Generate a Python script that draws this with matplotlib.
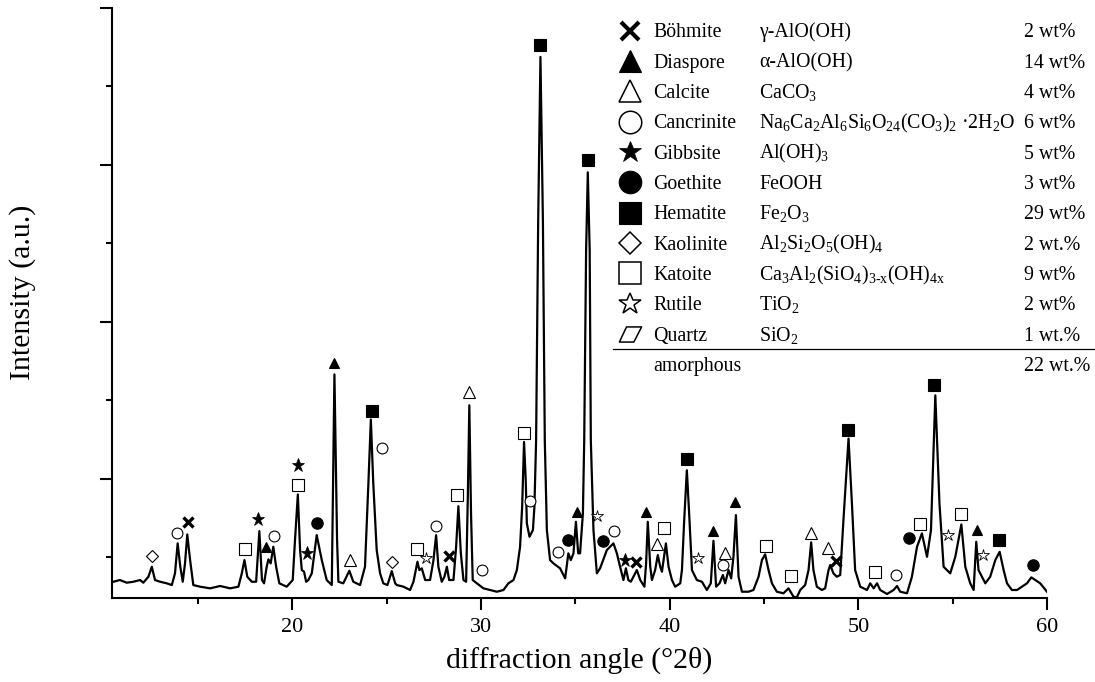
import matplotlib
matplotlib.use("Agg")
import matplotlib.pyplot as plt
from matplotlib.path import Path
from matplotlib.ticker import MultipleLocator

plt.rcParams['font.family'] = ['Liberation Serif', 'DejaVu Serif']
plt.rcParams['mathtext.fontset'] = 'custom'
plt.rcParams['mathtext.rm'] = 'Liberation Serif'
plt.rcParams['mathtext.it'] = 'Liberation Serif:italic'
plt.rcParams['mathtext.bf'] = 'Liberation Serif:bold'

two_theta = [10.51, 10.86, 11.22, 11.57, 11.93, 12.10, 12.37, 12.55, 12.72, 12.99,
             13.34, 13.61, 13.78, 13.92, 14.06, 14.19, 14.31, 14.43, 14.58, 14.75,
             15.11, 15.64, 16.17, 16.70, 17.14, 17.32, 17.46, 17.61, 17.85, 18.08,
             18.25, 18.39, 18.50, 18.64, 18.73, 18.85, 18.99, 19.14, 19.31, 19.70,
             20.02, 20.14, 20.29, 20.41, 20.50, 20.62, 20.73, 20.85, 21.03, 21.29,
             21.56, 21.82, 22.09, 22.23, 22.37, 22.44, 22.70, 23.02, 23.23, 23.59,
             23.85, 24.03, 24.16, 24.29, 24.47, 24.65, 24.82, 25.04, 25.27, 25.45,
             25.54, 25.89, 26.24, 26.42, 26.63, 26.73, 26.86, 27.04, 27.30, 27.48,
             27.62, 27.74, 27.92, 28.06, 28.19, 28.31, 28.54, 28.68, 28.80, 28.93,
             29.07, 29.21, 29.30, 29.38, 29.47, 29.56, 29.78, 30.13, 30.48, 30.84,
             31.19, 31.45, 31.72, 31.90, 32.07, 32.18, 32.28, 32.37, 32.43, 32.57,
             32.75, 32.83, 32.92, 33.03, 33.15, 33.28, 33.38, 33.49, 33.66, 33.84,
             34.19, 34.46, 34.63, 34.76, 34.90, 35.03, 35.15, 35.25, 35.40, 35.47,
             35.57, 35.66, 35.76, 35.82, 35.96, 36.14, 36.31, 36.67, 36.84, 37.02,
             37.20, 37.37, 37.55, 37.68, 37.81, 37.94, 38.08, 38.26, 38.44, 38.66,
             38.75, 38.84, 38.97, 39.06, 39.23, 39.37, 39.50, 39.59, 39.80, 39.94,
             40.12, 40.29, 40.56, 40.65, 40.77, 40.91, 41.05, 41.18, 41.44, 41.71,
             41.97, 42.18, 42.32, 42.46, 42.64, 42.82, 42.94, 43.12, 43.26, 43.38,
             43.51, 43.65, 43.83, 44.18, 44.44, 44.71, 44.89, 45.06, 45.24, 45.42,
             45.68, 46.03, 46.30, 46.56, 46.74, 46.92, 47.18, 47.36, 47.50, 47.62,
             47.80, 48.07, 48.24, 48.42, 48.51, 48.68, 48.86, 49.04, 49.21, 49.48,
             49.66, 49.83, 50.10, 50.46, 50.63, 50.81, 50.99, 51.16, 51.52, 51.87,
             52.05, 52.22, 52.58, 52.84, 53.11, 53.37, 53.64, 53.85, 54.08, 54.30,
             54.52, 54.87, 55.14, 55.46, 55.67, 55.93, 56.11, 56.25, 56.37, 56.55,
             56.73, 56.99, 57.26, 57.49, 57.70, 57.88, 58.14, 58.41, 58.67, 58.94,
             59.17, 59.38, 59.64, 60.00]
intensity = [690, 712, 678, 690, 712, 678, 754, 881, 712, 690,
             670, 648, 797, 1179, 881, 690, 924, 1293, 966, 648,
             627, 606, 636, 606, 627, 797, 966, 754, 690, 690,
             1335, 712, 670, 881, 975, 924, 1136, 881, 670, 627,
             712, 1221, 1802, 1094, 839, 818, 690, 712, 797, 1284,
             966, 712, 648, 3332, 1221, 690, 670, 830, 690, 648,
             881, 1942, 2756, 1942, 1094, 797, 670, 648, 826, 670,
             648, 627, 585, 690, 945, 839, 861, 712, 712, 966,
             1284, 881, 690, 754, 881, 712, 712, 1136, 1653, 1052,
             712, 690, 1772, 2938, 1560, 712, 670, 606, 585, 563,
             585, 670, 712, 839, 1136, 1644, 2471, 1984, 1433, 1263,
             1348, 1644, 2493, 5291, 7377, 5291, 2493, 1348, 966, 924,
             861, 734, 1052, 966, 1052, 1454, 1052, 1052, 1560, 2493,
             4910, 5906, 4910, 2493, 1348, 797, 861, 1094, 1136, 1179,
             1052, 881, 712, 861, 712, 690, 754, 839, 712, 627,
             924, 1454, 881, 712, 839, 1030, 881, 818, 1179, 881,
             712, 627, 670, 839, 1475, 2111, 1475, 839, 712, 690,
             585, 670, 1212, 627, 670, 776, 670, 839, 734, 1008,
             1539, 754, 563, 563, 585, 754, 966, 1039, 839, 670,
             563, 543, 606, 500, 490, 585, 648, 839, 1192, 839,
             627, 585, 606, 839, 903, 797, 754, 776, 1475, 2514,
             1688, 839, 627, 585, 670, 606, 670, 585, 534, 585,
             636, 563, 543, 754, 1136, 1306, 1008, 1348, 3065, 1688,
             881, 797, 1008, 1420, 881, 670, 585, 1199, 839, 754,
             670, 754, 966, 1072, 839, 670, 585, 585, 627, 670,
             746, 712, 670, 563]

# reflection markers per phase
boehmite_2t = [14.45, 28.32, 38.21, 48.83]
boehmite_I = [1446, 1017, 945, 954]
diaspore_2t = [18.59, 22.21, 35.08, 38.74, 42.29, 43.47, 56.29]
diaspore_I = [1136, 3472, 1581, 1581, 1339, 1708, 1348]
calcite_2t = [23.06, 29.38, 39.32, 42.94, 47.49, 48.39]
calcite_I = [966, 3107, 1166, 1052, 1306, 1115]
cancrinite_2t = [13.87, 19.05, 24.74, 27.60, 30.07, 32.57, 34.07, 37.07, 42.82, 52.01]
cancrinite_I = [1306, 1272, 2395, 1399, 839, 1721, 1064, 1335, 903, 776]
gibbsite_2t = [18.20, 20.29, 20.78, 37.64]
gibbsite_I = [1484, 2175, 1052, 966]
goethite_2t = [21.29, 34.63, 36.46, 52.66, 59.24]
goethite_I = [1441, 1221, 1212, 1250, 903]
hematite_2t = [24.21, 33.13, 35.66, 40.91, 49.43, 54.02, 57.43]
hematite_I = [2862, 7530, 6063, 2260, 2629, 3192, 1221]
kaolinite_2t = [12.58, 25.27]
kaolinite_I = [1017, 947]
katoite_2t = [17.49, 20.29, 26.60, 28.72, 32.28, 39.72, 45.12, 46.44, 50.86, 53.28, 55.46]
katoite_I = [1106, 1920, 1106, 1793, 2591, 1370, 1148, 767, 810, 1424, 1551]
rutile_2t = [27.07, 36.17, 41.49, 54.73, 56.61]
rutile_I = [988, 1530, 996, 1284, 1030]
quartz_2t = []
quartz_I = []

phase_names = ['Böhmite', 'Diaspore', 'Calcite', 'Cancrinite', 'Gibbsite', 'Goethite',
               'Hematite', 'Kaolinite', 'Katoite', 'Rutile', 'Quartz']
phase_formulas = ['γ-AlO(OH)', 'α-AlO(OH)', r'CaCO$_3$',
                  r'Na$_6$Ca$_2$Al$_6$Si$_6$O$_{24}$(CO$_3$)$_2$ ·2H$_2$O',
                  r'Al(OH)$_3$', 'FeOOH', r'Fe$_2$O$_3$', r'Al$_2$Si$_2$O$_5$(OH)$_4$',
                  r'Ca$_3$Al$_2$(SiO$_4$)$_{\mathrm{3\text{-}x}}$(OH)$_{\mathrm{4x}}$',
                  r'TiO$_2$', r'SiO$_2$']
phase_contents = ['2 wt%', '14 wt%', '4 wt%', '6 wt%', '5 wt%', '3 wt%', '29 wt%',
                  '2 wt.%', '9 wt%', '2 wt%', '1 wt.%']
amorphous_content = '22 wt.%'

phase_2t = [boehmite_2t, diaspore_2t, calcite_2t, cancrinite_2t, gibbsite_2t, goethite_2t,
            hematite_2t, kaolinite_2t, katoite_2t, rutile_2t, quartz_2t]
phase_I = [boehmite_I, diaspore_I, calcite_I, cancrinite_I, gibbsite_I, goethite_I,
           hematite_I, kaolinite_I, katoite_I, rutile_I, quartz_I]

quartz_marker = Path([(-1, -0.68), (0.30, -0.68), (1, 0.68), (-0.36, 0.68), (-1, -0.68)],
                     [Path.MOVETO, Path.LINETO, Path.LINETO, Path.LINETO, Path.CLOSEPOLY])

# marker look: (marker, filled, size in plot, size in table, edge width)
marker_styles = [('x', True, 7.3, 13.5, 2.4), ('^', True, 7.8, 16, 0.8),
                 ('^', False, 8.2, 16, 0.8), ('o', False, 7.8, 16.2, 0.8),
                 ('*', True, 9.8, 16.5, 0.5), ('o', True, 8.2, 16.2, 0.8),
                 ('s', True, 8.2, 16, 0.8), ('D', False, 6, 11.2, 0.8),
                 ('s', False, 8, 15.6, 0.8), ('*', False, 9.2, 16.5, 0.6),
                 (quartz_marker, False, 8, 16, 1.0)]

W, H = 1095, 682
fig = plt.figure(figsize=(W / 100, H / 100), dpi=100)
ax = fig.add_axes([112 / W, 84 / H, 935 / W, 590 / H])

ax.plot(two_theta, intensity, color='black', lw=1.6, zorder=2)

for xs, ys, (mk, filled, ms, _, mew) in zip(phase_2t, phase_I, marker_styles):
    if not xs:
        continue
    ax.plot(xs, ys, linestyle='none', marker=mk, ms=ms, mew=mew,
            mfc='black' if filled else 'white', mec='black', zorder=3)

ax.set_xlim(10.44, 60)
ax.set_ylim(483, 8000)
ax.xaxis.set_major_locator(MultipleLocator(10))
ax.xaxis.set_minor_locator(MultipleLocator(5))
ax.yaxis.set_major_locator(MultipleLocator(2000))
ax.yaxis.set_minor_locator(MultipleLocator(1000))
ax.tick_params(which='major', direction='out', length=8.6, width=1.5, labelsize=16)
ax.tick_params(which='minor', direction='out', length=4.3, width=1.5)
ax.tick_params(axis='y', labelleft=False)
ax.tick_params(axis='x', pad=6)
for side in ['top', 'right']:
    ax.spines[side].set_visible(False)
for side in ['left', 'bottom']:
    ax.spines[side].set_linewidth(1.5)

ax.set_xlabel('diffraction angle (°2θ)', fontsize=21.5)
ax.set_ylabel('Intensity (a.u.)', fontsize=21.5)
ax.xaxis.set_label_coords(0.5, -0.082)
ax.yaxis.set_label_coords(-0.081, 0.518)

# phase table drawn in pixel coordinates on an overlay
lax = fig.add_axes([0, 0, 1, 1])
lax.set_xlim(0, W)
lax.set_ylim(H, 0)
lax.axis('off')

row0, row_step = 30.6, 30.35
for i, (name, formula, content, (mk, filled, _, ms, mew)) in enumerate(
        zip(phase_names, phase_formulas, phase_contents, marker_styles)):
    yc = row0 + i * row_step
    lax.plot([630], [yc], linestyle='none', marker=mk, ms=ms,
             mew=3.0 if mk == 'x' else (1.1 if not filled else mew),
             mfc='black' if filled else 'white', mec='black')
    lax.text(653.3, yc + 6.6, name, fontsize=14.3, va='baseline', ha='left')
    lax.text(759.3, yc + 6.6, formula, fontsize=14.3, va='baseline', ha='left')
    lax.text(1024, yc + 6.6, content, fontsize=14.3, va='baseline', ha='left')

lax.plot([613, 1095], [349.3, 349.3], color='black', lw=0.9)
lax.text(653.3, 364 + 6.6, 'amorphous', fontsize=14.3, va='baseline', ha='left')
lax.text(1024, 364 + 6.6, amorphous_content, fontsize=14.3, va='baseline', ha='left')

fig.savefig('out.png', dpi=100)
